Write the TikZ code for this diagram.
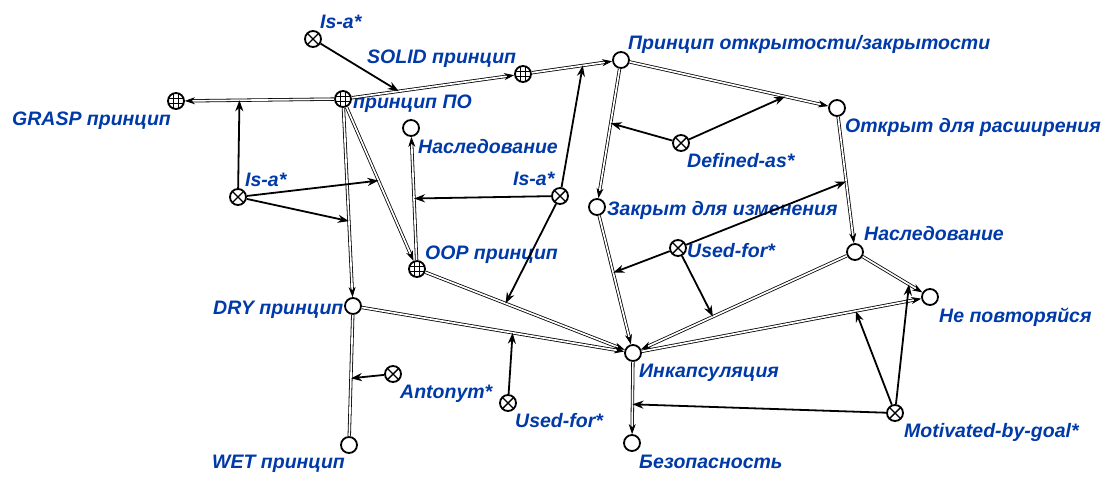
\documentclass[tikz,border=0pt]{standalone}
\usepackage{fontspec}
\setmainfont{Liberation Sans}
\usetikzlibrary{arrows.meta,calc}
\definecolor{lblue}{RGB}{0,58,168}
\tikzset{
  cnode/.style={circle,draw,line width=1.8pt,minimum size=16pt,inner sep=0pt,fill=white},
  xnode/.style={cnode,path picture={
      \draw[line width=1.4pt]
        ([shift={(45:8pt)}]path picture bounding box.center) -- ([shift={(225:8pt)}]path picture bounding box.center)
        ([shift={(135:8pt)}]path picture bounding box.center) -- ([shift={(-45:8pt)}]path picture bounding box.center);}},
  gnode/.style={cnode,path picture={
      \foreach \d in {-2.7pt,2.7pt}{
        \draw[line width=1pt] ([shift={(\d,-9pt)}]path picture bounding box.center) -- ++(0pt,18pt);
        \draw[line width=1pt] ([shift={(-9pt,\d)}]path picture bounding box.center) -- ++(18pt,0pt);}}},
  lbl/.style={font=\fontsize{19.5}{22}\selectfont\bfseries\itshape,text=lblue,inner sep=0pt,anchor=base west},
  dbl/.style={line width=0.8pt,double=white,double distance=1.7pt,-{Stealth[length=10pt,width=7pt,inset=3pt]}},
  dblplain/.style={line width=0.8pt,double=white,double distance=1.7pt},
  rel/.style={line width=1.8pt,-{Stealth[length=11pt,width=8pt,inset=3.5pt]}}
}
\begin{document}
\begin{tikzpicture}[x=1pt,y=-1pt]
\useasboundingbox[fill=white] (0,0) rectangle (1114,485);
% concept nodes
\node[xnode] (IsAtop) at (313,39) {};
\node[gnode] (SOLID) at (523,74) {};
\node[gnode] (PO) at (343,99) {};
\node[gnode] (GRASP) at (176,101) {};
\node[cnode] (NaslA) at (411,128) {};
\node[xnode] (IsAleft) at (238,197) {};
\node[xnode] (IsAmid) at (560,196) {};
\node[gnode] (OOP) at (417,269) {};
\node[cnode] (DRY) at (353,306) {};
\node[cnode] (WET) at (349,445) {};
\node[xnode] (Anto) at (393,374) {};
\node[xnode] (UFb) at (508,403) {};
\node[cnode] (OC) at (621,60) {};
\node[cnode] (Open) at (837,108) {};
\node[xnode] (Def) at (681,143) {};
\node[cnode] (Closed) at (597,207) {};
\node[xnode] (UFm) at (678,248) {};
\node[cnode] (NaslB) at (855,252) {};
\node[cnode] (NeP) at (930,297) {};
\node[cnode] (Ink) at (633,353) {};
\node[cnode] (Bez) at (632,443) {};
\node[xnode] (Mot) at (895,413) {};
% labels
\node[lbl] (tIsAtop) at (320,28) {Is-a*};
\node[lbl] (tSOLID) at (367,63) {SOLID принцип};
\node[lbl] (tPO) at (353,108) {принцип ПО};
\node[lbl] (tNaslA) at (418,153) {Наследование};
\node[lbl] (tGRASP) at (12,125) {GRASP принцип};
\node[lbl] (tIsAleft) at (245,186) {Is-a*};
\node[lbl] (tIsAmid) at (513,185) {Is-a*};
\node[lbl] (tOOP) at (425,259) {OOP принцип};
\node[lbl] (tDRY) at (213,314) {DRY принцип};
\node[lbl] (tWET) at (212,468) {WET принцип};
\node[lbl] (tAnto) at (400,398) {Antonym*};
\node[lbl] (tUFb) at (515,427) {Used-for*};
\node[lbl] (tOC) at (628,49) {Принцип открытости/закрытости};
\node[lbl] (tOpen) at (845,132) {Открыт для расширения};
\node[lbl] (tDef) at (687,167) {Defined-as*};
\node[lbl] (tClosed) at (607,215) {Закрыт для изменения};
\node[lbl] (tNaslB) at (864,240) {Наследование};
\node[lbl] (tUFm) at (687,257) {Used-for*};
\node[lbl] (tNeP) at (939,322) {Не повторяйся};
\node[lbl] (tInk) at (639,377) {Инкапсуляция};
\node[lbl] (tMot) at (904,437) {Motivated-by-goal*};
\node[lbl] (tBez) at (639,468) {Безопасность};
% points on edges
\coordinate (m1) at ($(PO)!0.31!(SOLID)$);
\coordinate (m2) at ($(PO)!0.62!(GRASP)$);
\coordinate (m3) at ($(PO)!0.48!(OOP)$);
\coordinate (m4) at ($(PO)!0.59!(DRY)$);
\coordinate (m5) at ($(SOLID)!0.61!(OC)$);
\coordinate (m6) at ($(OOP)!0.5!(NaslA)$);
\coordinate (m7) at ($(OOP)!0.41!(Ink)$);
\coordinate (m8) at ($(OC)!0.43!(Closed)$);
\coordinate (m9) at ($(OC)!0.76!(Open)$);
\coordinate (m10) at ($(Open)!0.51!(NaslB)$);
\coordinate (m11) at ($(Closed)!0.45!(Ink)$);
\coordinate (m12) at ($(NaslB)!0.64!(Ink)$);
\coordinate (m13) at ($(DRY)!0.52!(WET)$);
\coordinate (m14) at ($(DRY)!0.57!(Ink)$);
\coordinate (m15) at ($(Ink)!0.57!(Bez)$);
\coordinate (m16) at ($(Ink)!0.75!(NeP)$);
\coordinate (m17) at ($(NaslB)!0.72!(NeP)$);
% double edges
\draw[dbl] (PO) -- (GRASP);
\draw[dbl] (PO) -- (SOLID);
\draw[dbl] (SOLID) -- (OC);
\draw[dbl] (PO) -- (DRY);
\draw[dbl] (PO) -- (OOP);
\draw[dbl] (OOP) -- (NaslA);
\draw[dbl] (OOP) -- (Ink);
\draw[dbl] (DRY) -- (Ink);
\draw[dblplain] (DRY) -- (WET);
\draw[dbl] (OC) -- (Open);
\draw[dbl] (OC) -- (Closed);
\draw[dbl] (Closed) -- (Ink);
\draw[dbl] (Open) -- (NaslB);
\draw[dbl] (NaslB) -- (Ink);
\draw[dbl] (NaslB) -- (NeP);
\draw[dbl] (Ink) -- (NeP);
\draw[dbl] (Ink) -- (Bez);
% relation arrows
\draw[rel] (IsAtop) -- (m1);
\draw[rel] (IsAleft) -- (m2);
\draw[rel] (IsAleft) -- (m3);
\draw[rel] (IsAleft) -- (m4);
\draw[rel] (IsAmid) -- (m5);
\draw[rel] (IsAmid) -- (m6);
\draw[rel] (IsAmid) -- (m7);
\draw[rel] (Def) -- (m8);
\draw[rel] (Def) -- (m9);
\draw[rel] (UFm) -- (m10);
\draw[rel] (UFm) -- (m11);
\draw[rel] (UFm) -- (m12);
\draw[rel] (Anto) -- (m13);
\draw[rel] (UFb) -- (m14);
\draw[rel] (Mot) -- (m15);
\draw[rel] (Mot) -- (m16);
\draw[rel] (Mot) -- (m17);
\end{tikzpicture}
\end{document}
